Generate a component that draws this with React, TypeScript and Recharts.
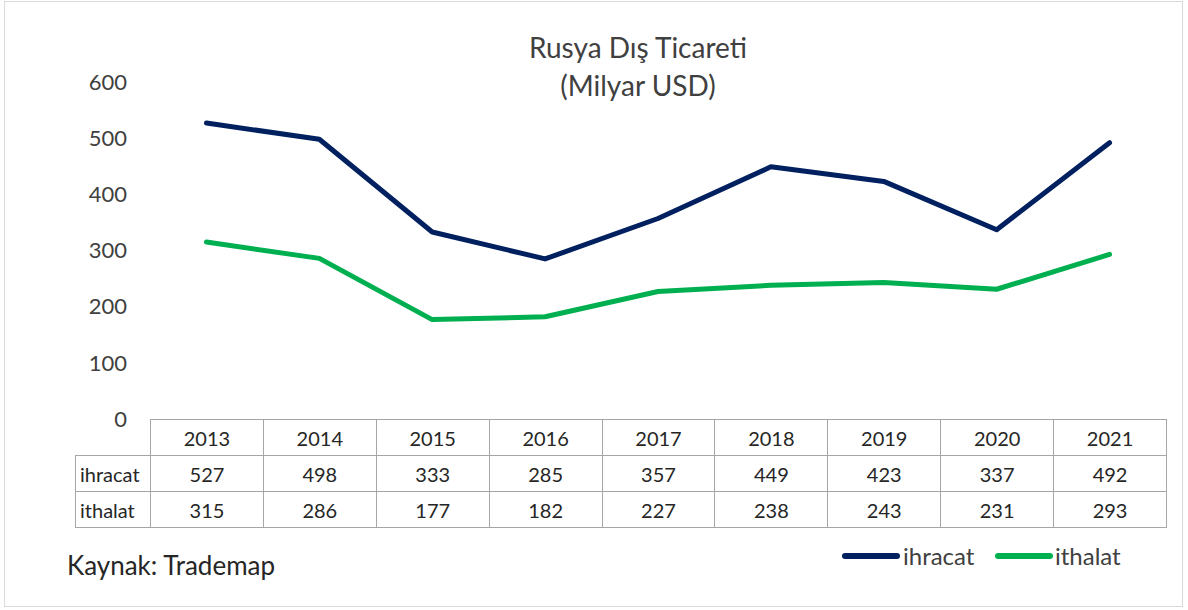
import React from 'react'
import { LineChart, Line, XAxis, YAxis } from 'recharts'

const years = ['2013', '2014', '2015', '2016', '2017', '2018', '2019', '2020', '2021']
const ihracat = [527, 498, 333, 285, 357, 449, 423, 337, 492]
const ithalat = [315, 286, 177, 182, 227, 238, 243, 231, 293]
const yTicks = [0, 100, 200, 300, 400, 500, 600]

const seriesInfo = [
  { key: 'ihracat', name: 'ihracat', color: '#002060', values: ihracat },
  { key: 'ithalat', name: 'ithalat', color: '#00B050', values: ithalat },
]

const data = years.map((y, i) => ({ year: y, ihracat: ihracat[i], ithalat: ithalat[i] }))

const W = 1188
const H = 610
const plotLeft = 150
const plotRight = 1166
const plotTop = 82
const plotBottom = 419
const colW = (plotRight - plotLeft) / years.length
const rowH = 36
const labelLeft = 75
const font = 'Lato, "Open Sans", sans-serif'
const textColor = '#404040'
const gridColor = '#a6a6a6'

// legend sits bottom right, drawn outside the svg so it doesn't shrink the plot
const legendPos = [
  { lineLeft: 842, textLeft: 903 },
  { lineLeft: 995, textLeft: 1055 },
]

function ChartLegend() {
  return (
    <>
      {seriesInfo.map((s, i) => (
        <React.Fragment key={s.key}>
          <div style={{ position: 'absolute', left: legendPos[i].lineLeft, top: 553, width: 58, height: 6, borderRadius: 3, background: s.color }} />
          <div style={{ position: 'absolute', left: legendPos[i].textLeft, top: 540, lineHeight: '32px', fontFamily: font, fontSize: 24, color: textColor }}>{s.name}</div>
        </React.Fragment>
      ))}
    </>
  )
}

function DataTable() {
  const cell = (left: number, top: number, w: number, text: string, align: 'center' | 'left') => (
    <div
      key={`${left}-${top}`}
      style={{
        position: 'absolute', left, top, width: w, height: rowH + 1, boxSizing: 'border-box',
        border: `1px solid ${gridColor}`,
        display: 'flex', alignItems: 'center',
        justifyContent: align === 'center' ? 'center' : 'flex-start',
        paddingLeft: align === 'left' ? 4 : 0,
        fontFamily: font, fontSize: 20, color: '#262626',
      }}
    >{text}</div>
  )
  const cells: React.ReactNode[] = []
  years.forEach((y, i) => cells.push(cell(plotLeft + i * colW, plotBottom, colW + 1, y, 'center')))
  seriesInfo.forEach((s, r) => {
    const top = plotBottom + (r + 1) * rowH
    cells.push(cell(labelLeft, top, plotLeft - labelLeft + 1, s.name, 'left'))
    s.values.forEach((v, i) => cells.push(cell(plotLeft + i * colW, top, colW + 1, String(v), 'center')))
  })
  return <>{cells}</>
}

export default function App() {
  const yAxisW = 60
  return (
    <div style={{ position: 'absolute', left: 0, top: 0, width: W, height: H, background: '#fff' }}>
      <div style={{ position: 'absolute', left: 4, top: 1, width: 1179, height: 606, border: '1px solid #d9d9d9', boxSizing: 'border-box' }} />
      <div style={{ position: 'absolute', left: 438, width: 400, top: 28, textAlign: 'center', fontFamily: font, fontSize: 28, lineHeight: '38px', color: textColor }}>
        <div>Rusya Dış Ticareti</div>
        <div>(Milyar USD)</div>
      </div>
      <LineChart
        width={W}
        height={H}
        data={data}
        margin={{ top: plotTop, bottom: H - plotBottom, left: plotLeft - yAxisW, right: W - plotRight }}
        style={{ position: 'absolute', left: 0, top: 0 }}
      >
        <XAxis dataKey="year" hide padding={{ left: colW / 2, right: colW / 2 }} />
        <YAxis
          width={yAxisW}
          domain={[0, 600]}
          ticks={yTicks}
          axisLine={false}
          tickLine={false}
          tickSize={0}
          tickMargin={23}
          tick={{ fill: textColor, fontSize: 22, fontFamily: font }}
        />
        {seriesInfo.map(s => (
          <Line
            key={s.key}
            type="linear"
            dataKey={s.key}
            name={s.name}
            stroke={s.color}
            strokeWidth={5}
            strokeLinecap="round"
            strokeLinejoin="round"
            dot={false}
            isAnimationActive={false}
          />
        ))}
      </LineChart>
      <DataTable />
      <ChartLegend />
      <div style={{ position: 'absolute', left: 67, top: 548, lineHeight: '34px', fontFamily: font, fontSize: 26, color: '#262626' }}>Kaynak: Trademap</div>
    </div>
  )
}
